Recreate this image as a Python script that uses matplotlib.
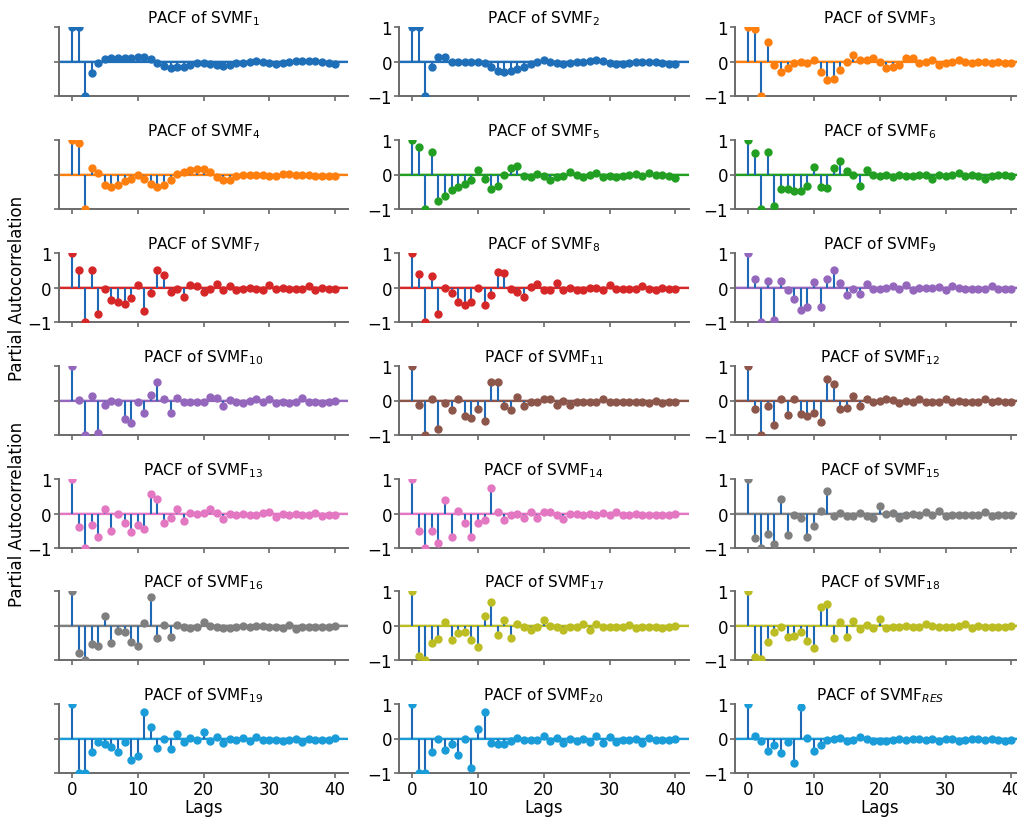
import numpy as np
import matplotlib
matplotlib.use("Agg")
import matplotlib.pyplot as plt

# Partial autocorrelation, lags 0..40, for each SVMF component
lags = np.arange(41)
n_obs = 1500  # length of each series, sets the 95% confidence band

svmf1 = [1.0, 1.0, -1.0, -0.33, -0.04, 0.08, 0.09, 0.09, 0.09, 0.10, 0.13, 0.13, 0.07,
         -0.05, -0.14, -0.18, -0.17, -0.15, -0.10, -0.05, -0.04, -0.06, -0.10, -0.14, -0.10,
         -0.05, -0.03, 0.0, 0.02, 0.0, -0.05, -0.08, -0.05, -0.02, 0.01, 0.02, 0.02, 0.02,
         -0.02, -0.05, -0.08]
svmf2 = [1.0, 1.0, -1.0, -0.15, 0.12, 0.12, 0.0, -0.02, -0.01, -0.01, 0.0, -0.05, -0.15,
         -0.27, -0.30, -0.28, -0.22, -0.15, -0.08, 0.0, 0.03, 0.0, -0.03, -0.08, -0.05,
         -0.02, 0.0, 0.02, 0.04, 0.02, -0.03, -0.08, -0.08, -0.03, -0.02, -0.01, -0.01,
         -0.02, -0.05, -0.06, -0.08]
svmf3 = [1.0, 0.95, -1.0, 0.57, -0.10, -0.30, -0.20, -0.05, -0.02, -0.05, 0.05, -0.30,
         -0.55, -0.50, -0.25, 0.0, 0.20, 0.05, 0.05, 0.10, -0.02, -0.20, -0.15, -0.10, 0.10,
         0.10, -0.05, -0.02, 0.03, -0.10, -0.05, 0.0, 0.05, 0.0, -0.05, 0.0, -0.02, -0.03,
         -0.02, -0.05, -0.05]
svmf4 = [1.0, 0.90, -1.0, 0.20, 0.03, -0.30, -0.37, -0.30, -0.20, -0.12, -0.02, -0.12,
         -0.28, -0.37, -0.30, -0.15, 0.02, 0.08, 0.12, 0.15, 0.15, 0.07, -0.08, -0.15, -0.15,
         -0.05, 0.0, 0.0, 0.0, 0.0, -0.03, -0.05, 0.02, 0.02, -0.02, -0.02, -0.02, -0.03,
         -0.03, -0.05, -0.05]
svmf5 = [1.0, 0.80, -1.0, 0.65, -0.78, -0.62, -0.45, -0.35, -0.28, -0.17, 0.13, -0.13,
         -0.43, -0.33, 0.0, 0.20, 0.25, -0.03, -0.08, 0.01, -0.05, -0.17, -0.06, -0.03,
         0.08, 0.0, -0.07, -0.02, 0.03, -0.08, -0.05, -0.07, -0.05, -0.02, 0.02, -0.05, 0.05,
         0.0, -0.02, -0.05, -0.10]
svmf6 = [1.0, 0.62, -1.0, 0.65, -0.90, -0.42, -0.43, -0.48, -0.48, -0.32, 0.22, -0.35,
         -0.40, 0.18, 0.40, 0.10, -0.02, -0.32, 0.12, 0.0, -0.05, 0.0, -0.08, 0.0, -0.05,
         -0.05, 0.0, 0.0, -0.12, 0.0, -0.05, 0.0, 0.05, -0.05, -0.02, -0.05, -0.12, -0.05,
         -0.02, 0.0, -0.05]
svmf7 = [1.0, 0.50, -1.0, 0.52, -0.78, -0.05, -0.35, -0.42, -0.47, -0.30, 0.08, -0.68,
         -0.15, 0.50, 0.35, -0.12, -0.05, -0.27, 0.07, 0.05, -0.12, -0.05, 0.10, -0.07, 0.05,
         -0.07, -0.03, 0.0, -0.03, -0.07, 0.07, -0.05, 0.0, -0.05, -0.03, -0.05, 0.05, -0.07,
         0.0, -0.05, -0.05]
svmf8 = [1.0, 0.38, -1.0, 0.32, -0.78, 0.0, -0.15, -0.42, -0.52, -0.42, 0.0, -0.52, -0.22,
         0.45, 0.42, -0.05, -0.12, -0.28, 0.02, 0.10, -0.07, -0.07, 0.12, -0.07, 0.0, -0.07,
         -0.08, -0.02, -0.02, -0.08, 0.07, -0.03, -0.03, -0.03, -0.05, 0.03, -0.05, -0.08,
         -0.02, -0.03, -0.05]
svmf9 = [1.0, 0.25, -1.0, 0.20, -0.95, 0.20, -0.08, -0.33, -0.65, -0.57, 0.17, -0.57,
         0.25, 0.52, 0.12, -0.22, -0.05, -0.20, 0.10, -0.03, -0.05, 0.0, 0.05, -0.05, 0.07,
         -0.07, -0.02, 0.0, 0.0, 0.02, -0.07, 0.03, -0.02, -0.03, -0.05, -0.05, -0.03, 0.05,
         -0.05, -0.03, -0.05]
svmf10 = [1.0, 0.02, -1.0, 0.12, -0.95, -0.12, -0.02, -0.05, -0.55, -0.65, -0.05, -0.35,
          0.17, 0.55, 0.05, -0.35, 0.07, -0.05, -0.05, -0.05, -0.03, 0.10, 0.08, -0.17,
          0.02, -0.05, -0.07, -0.02, 0.03, -0.03, 0.05, -0.07, -0.03, -0.07, -0.03, 0.07,
          -0.05, -0.05, -0.07, -0.03, 0.0]
svmf11 = [1.0, -0.13, -1.0, 0.03, -0.82, -0.07, -0.27, 0.03, -0.45, -0.50, -0.25, -0.60,
          0.55, 0.55, -0.15, -0.27, 0.10, -0.17, -0.03, -0.05, 0.05, 0.05, -0.12, 0.0, -0.12,
          -0.03, -0.03, -0.05, -0.03, 0.05, -0.03, -0.05, -0.03, -0.05, -0.03, -0.05, -0.07,
          0.0, -0.08, -0.03, -0.03]
svmf12 = [1.0, -0.25, -1.0, -0.15, -0.72, 0.03, -0.42, 0.03, -0.38, -0.45, -0.35, -0.62,
          0.62, 0.48, -0.25, -0.22, 0.12, -0.17, 0.03, -0.05, 0.0, 0.05, 0.02, -0.07, 0.0,
          -0.05, 0.03, -0.05, -0.03, -0.05, 0.05, -0.05, 0.0, -0.05, -0.03, -0.05, 0.03,
          -0.05, 0.0, -0.03, -0.05]
svmf13 = [1.0, -0.38, -1.0, -0.33, -0.67, 0.12, -0.52, 0.0, -0.27, -0.55, -0.33, -0.45,
          0.57, 0.42, -0.27, -0.12, 0.13, -0.22, 0.02, -0.02, 0.02, 0.12, 0.02, -0.17, 0.0,
          -0.05, -0.02, -0.03, -0.03, 0.02, 0.05, -0.10, -0.02, -0.05, 0.0, -0.05, -0.05,
          0.02, -0.07, -0.05, -0.05]
svmf14 = [1.0, -0.50, -1.0, -0.52, -0.85, 0.38, -0.67, 0.08, -0.27, -0.68, -0.27, -0.20,
          0.75, 0.05, -0.20, -0.05, -0.02, -0.12, 0.05, -0.12, 0.05, 0.05, -0.05, -0.15,
          0.0, -0.02, -0.03, -0.02, -0.03, 0.02, -0.05, 0.03, -0.05, -0.05, 0.0, -0.05,
          -0.05, -0.05, -0.05, -0.05, 0.0]
svmf15 = [1.0, -0.70, -1.0, -0.60, -0.88, 0.42, -0.63, -0.05, -0.12, -0.68, -0.35, 0.08,
          0.65, -0.08, 0.02, -0.08, -0.08, 0.02, -0.08, -0.12, 0.22, -0.02, 0.02, -0.12,
          -0.05, -0.02, -0.03, 0.03, -0.03, 0.07, -0.07, -0.05, -0.05, -0.03, -0.03, -0.05,
          0.03, -0.07, -0.05, -0.03, -0.03]
svmf16 = [1.0, -0.80, -1.0, -0.55, -0.60, 0.27, -0.52, -0.15, -0.20, -0.48, -0.60, 0.07,
          0.82, -0.37, 0.02, -0.32, 0.02, -0.05, -0.08, -0.03, 0.10, 0.0, -0.03, -0.07,
          -0.07, -0.05, 0.0, -0.05, -0.02, -0.02, -0.03, -0.05, -0.07, 0.02, -0.10, -0.05,
          -0.05, -0.05, -0.05, -0.05, 0.0]
svmf17 = [1.0, -0.87, -1.0, -0.50, -0.38, 0.10, -0.42, -0.22, -0.20, -0.42, -0.62, 0.28,
          0.68, -0.27, 0.17, -0.35, 0.03, -0.05, -0.12, -0.03, 0.15, 0.0, -0.05, -0.12,
          -0.05, -0.05, 0.03, -0.12, 0.05, -0.03, -0.05, -0.05, -0.05, 0.02, -0.07, -0.03,
          -0.03, -0.03, -0.07, -0.03, 0.0]
svmf18 = [1.0, -0.92, -0.97, -0.47, -0.20, -0.05, -0.33, -0.30, -0.20, -0.45, -0.65, 0.55,
          0.62, -0.35, 0.10, -0.33, 0.13, -0.10, 0.02, -0.08, 0.18, -0.08, -0.03, -0.05,
          -0.02, -0.03, -0.03, 0.05, -0.02, -0.05, -0.05, -0.03, -0.02, 0.03, -0.07, 0.0,
          -0.03, -0.05, -0.05, -0.03, 0.0]
svmf19 = [1.0, -1.0, -1.0, -0.40, -0.10, -0.17, -0.25, -0.40, -0.10, -0.62, -0.50, 0.78,
          0.32, -0.28, -0.02, -0.30, 0.12, -0.10, 0.02, -0.05, 0.18, -0.08, 0.05, -0.12,
          -0.02, -0.05, 0.02, -0.07, 0.05, -0.03, -0.03, -0.05, -0.07, -0.05, 0.0, -0.10,
          -0.02, -0.05, -0.05, -0.05, 0.02]
svmf20 = [1.0, -1.0, -1.0, -0.40, 0.0, -0.32, -0.17, -0.48, 0.0, -0.85, 0.27, 0.78, -0.12,
          -0.15, -0.17, -0.07, 0.02, -0.05, -0.05, -0.03, 0.07, -0.08, 0.02, -0.12, -0.02,
          -0.07, 0.0, -0.10, 0.08, -0.12, 0.05, -0.10, -0.05, -0.05, 0.0, -0.12, 0.02, -0.05,
          -0.05, -0.03, 0.0]
svmf_res = [1.0, 0.07, -0.08, -0.35, -0.20, -0.42, -0.10, -0.70, 0.92, 0.01, -0.36, -0.20,
            -0.05, 0.0, 0.01, -0.07, -0.05, 0.03, -0.02, -0.07, -0.07, -0.07, -0.05, -0.01,
            -0.05, 0.0, -0.02, -0.05, -0.02, -0.08, -0.02, -0.02, -0.07, -0.05, -0.02, 0.0,
            -0.05, -0.02, -0.05, -0.08, -0.05]

series = [svmf1, svmf2, svmf3, svmf4, svmf5, svmf6, svmf7, svmf8, svmf9, svmf10, svmf11,
          svmf12, svmf13, svmf14, svmf15, svmf16, svmf17, svmf18, svmf19, svmf20, svmf_res]
subscripts = [str(i) for i in range(1, 21)] + ["RES"]

# one hue per pair of components
palette = ["#1f6fb8", "#ff7f0e", "#229f22", "#d62728", "#9467bd",
           "#8c564b", "#e377c2", "#7f7f7f", "#bcbd22", "#1a9cd8"]
panel_colors = [palette[min(i // 2, len(palette) - 1)] for i in range(len(series))]
stem_color = "#1f68b6"
spine_color = "#6a6a6a"

conf = 1.96 / np.sqrt(n_obs)

W, H = 1017, 820
fig = plt.figure(figsize=(W / 100, H / 100), dpi=100)

col_left = [58.8, 399.0, 735.0]   # pixels
ax_w = 289.5
row_top = [28, 141, 254, 367, 480, 592, 705]
ax_h = 69

for i, vals in enumerate(series):
    r, c = divmod(i, 3)
    left = col_left[c] / W
    bottom = 1 - (row_top[r] + ax_h) / H
    ax = fig.add_axes([left, bottom, ax_w / W, ax_h / H])
    color = panel_colors[i]

    ax.axhspan(-conf, conf, color=color, alpha=0.25, lw=0, zorder=1)
    ax.axhline(0, color=color, lw=1.6, zorder=1.5)
    ax.vlines(lags, 0, vals, colors=stem_color, lw=1.5, zorder=2)
    ax.plot(lags, vals, "o", color=color, ms=5, zorder=3)

    ax.set_xlim(-2, 42)
    ax.set_ylim(-1, 1)
    ax.set_xticks([0, 10, 20, 30, 40])
    ax.set_yticks([-1, 0, 1])
    ax.set_title(f"PACF of SVMF$_{{{subscripts[i]}}}$", fontsize=11, pad=3)

    for side in ("top", "right"):
        ax.spines[side].set_visible(False)
    for side in ("left", "bottom"):
        ax.spines[side].set_color(spine_color)
        ax.spines[side].set_linewidth(1.4)
    ax.tick_params(colors=spine_color, labelcolor="black", labelsize=12,
                   length=3.5, width=1.2, pad=1.5)

    if r < 6:
        ax.tick_params(labelbottom=False)
    else:
        ax.set_xlabel("Lags", fontsize=12, labelpad=0)
    if c == 0 and r not in (2, 4):
        ax.tick_params(labelleft=False)
    if c == 0 and r in (2, 4):
        ax.set_ylabel("Partial Autocorrelation", fontsize=12, labelpad=1)

fig.savefig("out.png", dpi=100)
